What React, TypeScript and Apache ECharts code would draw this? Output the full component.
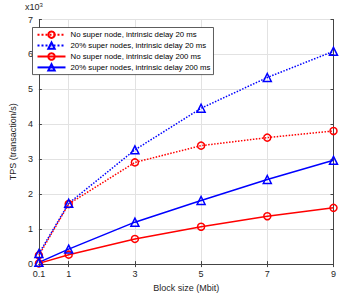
import React, { useEffect, useRef } from 'react';
import * as echarts from 'echarts';

const blockSizes = [0.1, 1, 3, 5, 7, 9];
const xTickValues = [0.1, 1, 3, 5, 7, 9];
const noSuper20 = [0.25, 1.72, 2.91, 3.39, 3.62, 3.81];
const super20 = [0.3, 1.74, 3.27, 4.46, 5.34, 6.09];
const noSuper200 = [0.02, 0.27, 0.72, 1.07, 1.37, 1.61];
const super200 = [0.05, 0.43, 1.2, 1.82, 2.42, 2.97];
const seriesNames = [
  'No super node, intrinsic delay 20 ms',
  '20% super nodes, intrinsic delay 20 ms',
  'No super node, intrinsic delay 200 ms',
  '20% super nodes, intrinsic delay 200 ms',
];
const xName = 'Block size (Mbit)';
const yName = 'TPS (transaction/s)';

const FONT = 'Liberation Sans, Arial, sans-serif';
const AXIS = '#444';
const GRID = '#e2e2e2';

function mk(name: string, vals: number[], color: string, dotted: boolean, symbol: string, size: number) {
  return {
    name,
    type: 'line',
    data: blockSizes.map((x, i) => [x, vals[i]]),
    symbol,
    symbolSize: size,
    showAllSymbol: true,
    lineStyle: { color, width: 1.5, type: dotted ? 'dotted' : 'solid' },
    itemStyle: { color: 'rgba(0,0,0,0)', borderColor: color, borderWidth: 1.5 },
    emphasis: { disabled: true },
    z: 3,
  };
}

export default function App() {
  const ref = useRef<HTMLDivElement>(null);
  useEffect(() => {
    document.body.style.margin = '0';
    if (!ref.current) return;
    const chart = echarts.init(ref.current, undefined, { renderer: 'svg' });
    const xBase = {
      type: 'value',
      min: 0.1,
      max: 9,
      axisLine: { show: true, lineStyle: { color: AXIS, width: 1 } },
      axisTick: { show: true, inside: true, length: 3, customValues: xTickValues, lineStyle: { color: AXIS } },
      splitLine: { show: true, lineStyle: { color: GRID, width: 1 } },
    };
    const yBase = {
      type: 'value',
      min: 0,
      max: 7,
      interval: 1,
      axisLine: { show: true, lineStyle: { color: AXIS, width: 1 } },
      axisTick: { show: true, inside: true, length: 3, lineStyle: { color: AXIS } },
      splitLine: { show: true, lineStyle: { color: GRID, width: 1 } },
    };
    chart.setOption({
      animation: false,
      grid: { left: 22, right: 5, top: 19.5, bottom: 29, containLabel: false },
      xAxis: [
        {
          ...xBase,
          position: 'bottom',
          name: xName,
          nameLocation: 'middle',
          nameGap: 18,
          nameTextStyle: { fontFamily: FONT, fontSize: 9, color: '#262626' },
          axisLabel: {
            customValues: xTickValues,
            margin: 5,
            fontFamily: FONT,
            fontSize: 9,
            color: '#262626',
            formatter: (v: number) => (Math.abs(v - 0.1) < 1e-9 ? '0.1' : String(Math.round(v))),
          },
        },
        {
          ...xBase,
          position: 'top',
          splitLine: { show: false },
          axisLabel: { show: false },
        },
      ],
      yAxis: [
        {
          ...yBase,
          position: 'left',
          name: yName,
          nameLocation: 'middle',
          nameGap: 12,
          nameTextStyle: { fontFamily: FONT, fontSize: 9, color: '#262626', verticalAlign: 'bottom' },
          axisLabel: { margin: 6, fontFamily: FONT, fontSize: 9, color: '#262626' },
        },
        {
          ...yBase,
          position: 'right',
          splitLine: { show: false },
          axisLabel: { show: false },
        },
      ],
      legend: {
        orient: 'vertical',
        left: 32.5,
        top: 27.5,
        padding: [3, 3, 3, 4],
        itemWidth: 28,
        itemHeight: 8,
        itemGap: 2.5,
        borderColor: '#333',
        borderWidth: 0.8,
        backgroundColor: '#fff',
        selectedMode: false,
        textStyle: { fontFamily: FONT, fontSize: 7.8, color: '#000', lineHeight: 8 },
        data: seriesNames,
      },
      graphic: [
        {
          type: 'text',
          left: 25,
          top: 2,
          style: {
            text: 'x10{s|3}',
            rich: { s: { fontSize: 6, verticalAlign: 'top', fontFamily: FONT, fill: '#262626', padding: [0, 0, 4, 0] } },
            fontFamily: FONT,
            fontSize: 9,
            fill: '#262626',
          },
        },
      ],
      series: [
        mk(seriesNames[0], noSuper20, '#ff0000', true, 'circle', 7),
        mk(seriesNames[1], super20, '#0000ff', true, 'triangle', 8),
        mk(seriesNames[2], noSuper200, '#ff0000', false, 'circle', 7),
        mk(seriesNames[3], super200, '#0000ff', false, 'triangle', 8),
      ],
    });
    return () => chart.dispose();
  }, []);
  return <div ref={ref} style={{ width: 339, height: 297 }} />;
}
